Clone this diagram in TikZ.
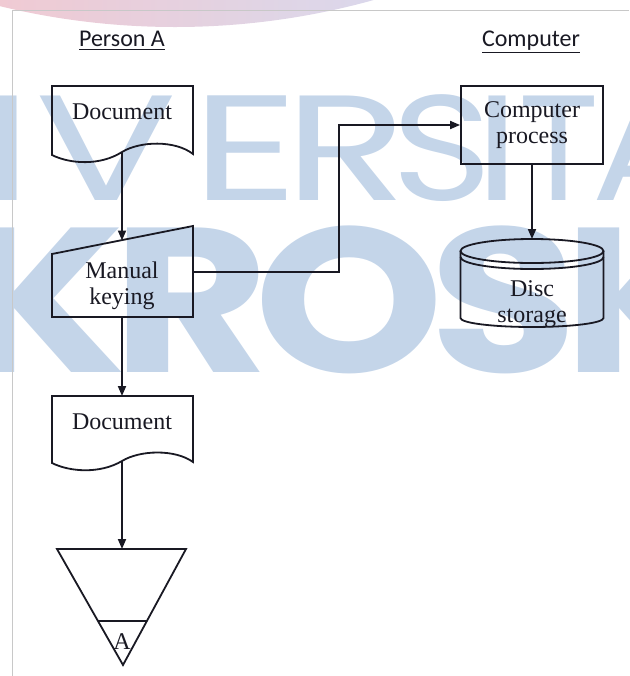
\documentclass[tikz,border=0pt]{standalone}
\usepackage{fontspec}
\setmainfont{Liberation Serif}
\newfontfamily\headfont{Carlito}
\newfontfamily\markfont{Poppins}
\newfontfamily\markfonttight[LetterSpace=-6]{Poppins}
\usetikzlibrary{arrows.meta, calc, positioning}

\definecolor{ink}{RGB}{25,25,35}
\definecolor{markblue}{RGB}{196,213,233}
\definecolor{arcpink}{RGB}{238,196,206}
\definecolor{arclilac}{RGB}{214,212,234}
\definecolor{framegray}{RGB}{200,200,200}

\begin{document}
\begin{tikzpicture}[x=0.5pt, y=-0.5pt, >={Triangle[length=5pt, width=4pt]},
  every node/.style={inner sep=0pt},
  txt/.style={font=\fontsize{12}{13}\selectfont, align=center, text=ink},
  head/.style={font=\headfont\fontsize{12}{14}\selectfont, text=ink},
  flow/.style={draw=ink, line width=0.9pt},
  markletter/.style={text=markblue, anchor=base, font=\markfont\fontsize{75}{75}\selectfont}]
\useasboundingbox (0,0) rectangle (629,676);

% Background
\begin{scope}
\clip (0,0) rectangle (629,676);
\foreach \ch/\cx/\sx in {I/9/1.25, V/106/1.4, E/245/1.4, R/346/1.35, S/442/1.15, I/498/1.25, T/559/1.0, A/650/1.15}
  \node[markletter, xscale=\sx] (mark-\cx) at (\cx,200) {\ch};
\node[anchor=base west, text=markblue, xscale=1.17, font=\markfonttight\bfseries\fontsize{103}{103}\selectfont] (marktwo) at (-42,372) {KROSK};
\begin{scope}
\clip (175,-712.5) circle [radius=739.5];
\shade[left color=arcpink, right color=arclilac, opacity=0.9] (0,-5) rectangle (380,30);
\end{scope}
\draw[framegray, line width=0.5pt] (629,10) -- (12,10) -- (12,676);
\end{scope}

% Headings
\node[head, anchor=base] (persona) at (122,46) {\underline{Person A}};
\node[head, anchor=base] (computer) at (531,46) {\underline{Computer}};

% Nodes
\node[txt] (doctop) at (122,112) {Document};
\node[txt] (keying) at (122,285.5) {Manual\\keying};
\node[txt] (docbot) at (122,422) {Document};
\node[txt] (offpage) at (122,642) {A};
\node[txt, draw=ink, line width=0.9pt, minimum width=71pt, minimum height=39pt] (process) at (532,125) {Computer\\process};
\node[txt] (disc) at (532,304) {Disc\\storage};

% Shapes
\draw[flow] (52,86) -- (193,86) -- (193,154) .. controls (175,140) and (140,141) .. (122,152) .. controls (100,166) and (70,164) .. (52,155) -- cycle;
\draw[flow] (52,254) -- (193,226) -- (193,317) -- (52,317) -- cycle;
\draw[flow] (52,396) -- (193,396) -- (193,462) .. controls (175,449) and (140,450) .. (122,461) .. controls (100,474) and (70,472) .. (52,463) -- cycle;
\draw[flow] (57,549) -- (186,549) -- (123,665) -- cycle;
\draw[flow] (98,621) -- (147,621);
\draw[flow] (532,251) ellipse [x radius=71.5, y radius=12];
\draw[flow] (460.5,257) arc [start angle=180, end angle=0, x radius=71.5, y radius=12];
\draw[flow] (460.5,251) -- (460.5,318) arc [start angle=180, end angle=0, x radius=71.5, y radius=9] -- (603.5,251);

% Ports
\coordinate (doctop-out) at (122,152);
\coordinate (keying-in) at (122,240.5);
\coordinate (keying-out) at (122,317);
\coordinate (keying-side) at (193,272);
\coordinate (docbot-in) at (122,396);
\coordinate (docbot-out) at (122,461);
\coordinate (offpage-in) at (122,549);
\coordinate (disc-in) at (532,239);

% Arrows
\draw[flow, ->] (doctop-out) -- (keying-in);
\draw[flow, ->] (keying-out) -- (docbot-in);
\draw[flow, ->] (docbot-out) -- (offpage-in);
\draw[flow, ->] (keying-side) -- ++(146,0) |- (process.west);
\draw[flow, ->] (process.south) -- (disc-in);
\end{tikzpicture}
\end{document}
